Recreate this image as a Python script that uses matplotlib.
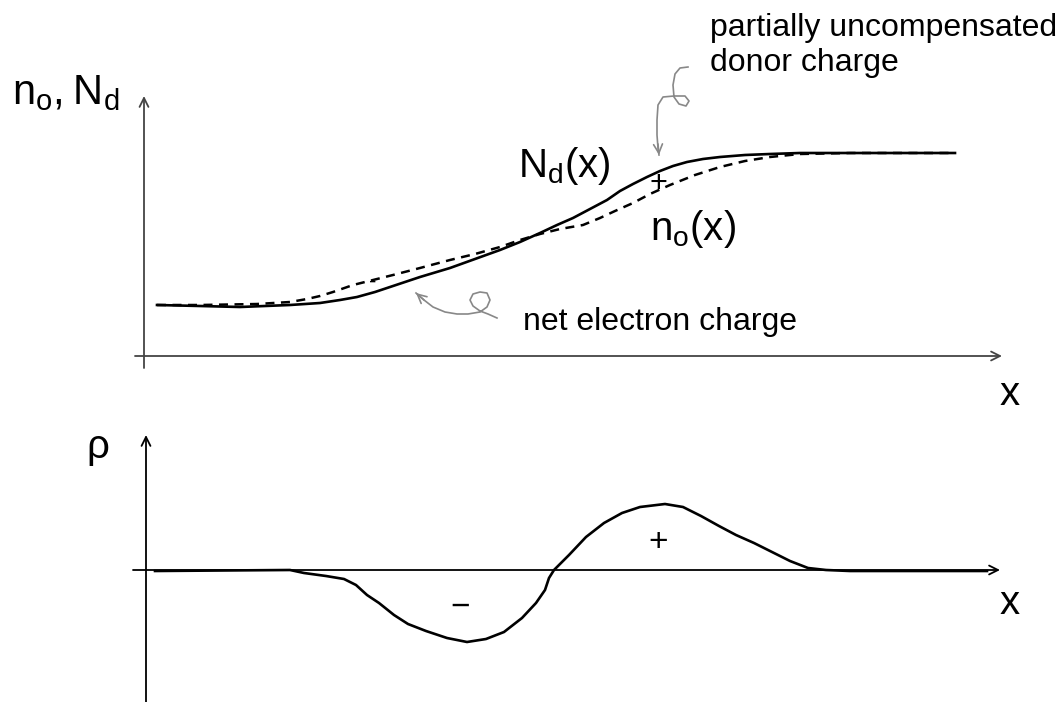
import matplotlib
matplotlib.use("Agg")
import matplotlib.pyplot as plt

plt.rcParams["font.family"] = ["Liberation Sans", "DejaVu Sans"]
plt.rcParams["mathtext.default"] = "regular"

# upper sketch: height above the x axis
x_nd = [157, 200, 240, 290, 320, 340, 357, 375, 390, 405, 420, 450, 475, 500, 520,
        540, 557, 573, 590, 607, 620, 633, 647, 660, 673, 687, 703, 720, 745, 770,
        800, 850, 900, 955]
nd = [50, 49, 48, 50, 52, 55, 58, 63, 68, 73, 78, 87, 96, 105, 113,
      122, 130, 137, 146, 155, 164, 171, 178, 184, 189, 193, 196, 198, 200, 201,
      202, 202, 202, 202]

x_no = [157, 200, 257, 290, 307, 320, 333, 353, 373, 393, 420, 450, 475, 500, 520,
        540, 560, 583, 600, 615, 633, 650, 670, 695, 720, 745, 770, 800, 850, 955]
no = [50, 50, 51, 53, 56, 59, 63, 70, 75, 80, 87, 95, 101, 108, 115,
      121, 126, 130, 137, 144, 152, 161, 170, 180, 188, 194, 198, 201, 202, 202]

# lower sketch: space charge density
x_rho = [155, 290, 304, 326, 344, 356, 367, 379, 394, 408, 426, 447, 467, 486, 504,
         522, 536, 545, 549, 554, 569, 586, 604, 622, 640, 665, 683, 701, 719, 736,
         754, 772, 790, 808, 826, 850, 987]
rho = [-1, 0, -3, -6, -9, -15, -25, -33, -45, -54, -61, -68, -72, -69, -62,
       -48, -33, -20, -8, 0, 15, 33, 47, 57, 63, 66, 63, 54, 44, 35,
       27, 18, 9, 2, 0, -1, -1]

# hand drawn pointer strokes (upper sketch coordinates)
donor_px = [688, 680, 675, 673, 674, 679, 686, 689, 685, 674, 663, 658, 657, 657, 658, 659]
donor_py = [288, 287, 281, 270, 258, 251, 249, 254, 259, 259, 258, 250, 235, 220, 207, 200]
elec_px = [497, 488, 480, 473, 470, 473, 480, 487, 490, 487, 480, 468, 457, 445, 433, 424, 416]
elec_py = [37, 41, 44, 49, 55, 61, 63, 62, 55, 48, 43, 41, 41, 43, 48, 55, 62]

fig = plt.figure(figsize=(10.64, 7.02), dpi=100)
ax = fig.add_axes([0, 282 / 702, 1, 420 / 702])
ax.set_xlim(0, 1064)
ax.set_ylim(-65, 355)
ax.axis("off")

bx = fig.add_axes([0, 0, 1, 282 / 702])
bx.set_xlim(0, 1064)
bx.set_ylim(-132, 150)
bx.axis("off")

axis_style = dict(arrowstyle="->", lw=1.3, shrinkA=0, shrinkB=0, mutation_scale=16)

# axes of the upper sketch
ax.annotate("", xy=(144, 259), xytext=(144, -13),
            arrowprops=dict(color="#444444", **axis_style))
ax.annotate("", xy=(1002, -1), xytext=(135, -1),
            arrowprops=dict(color="#444444", **axis_style))

ax.plot(x_nd, nd, color="black", lw=1.9, solid_joinstyle="round")
ax.plot(x_no, no, color="black", lw=1.8, dashes=(3.6, 2.6))

ax.text(12, 251, r"$n_o, N_d$", fontsize=30, va="baseline")
ax.text(518, 178, r"$N_d(x)$", fontsize=29, va="baseline")
ax.text(650, 115, r"$n_o(x)$", fontsize=29, va="baseline")
ax.text(1010, -50, "x", fontsize=29, ha="center", va="baseline")
ax.text(658, 171, "+", fontsize=22, ha="center", va="center")
ax.text(373, 73, "-", fontsize=16, ha="center", va="center")

ax.text(710, 319, "partially uncompensated", fontsize=23, va="baseline")
ax.text(710, 284, "donor charge", fontsize=23, va="baseline")
ax.text(523, 25, "net electron charge", fontsize=23, va="baseline")

ax.plot(donor_px, donor_py, color="#888888", lw=1.2)
ax.annotate("", xy=(donor_px[-1], donor_py[-1]), xytext=(donor_px[-2], donor_py[-2] + 4),
            arrowprops=dict(arrowstyle="->", color="#888888", lw=1.2,
                            shrinkA=0, shrinkB=0, mutation_scale=16))
ax.plot(elec_px, elec_py, color="#888888", lw=1.2)
ax.annotate("", xy=(elec_px[-1], elec_py[-1]), xytext=(elec_px[-2], elec_py[-2]),
            arrowprops=dict(arrowstyle="->", color="#888888", lw=1.2,
                            shrinkA=0, shrinkB=0, mutation_scale=16))

# axes of the lower sketch
bx.annotate("", xy=(146, 135), xytext=(146, -132),
            arrowprops=dict(color="black", **axis_style))
bx.annotate("", xy=(1000, 0), xytext=(133, 0),
            arrowprops=dict(color="black", **axis_style))

bx.plot(x_rho, rho, color="black", lw=1.9, solid_joinstyle="round")

bx.text(98, 123, "ρ", fontsize=29, ha="center", va="center")
bx.text(1010, -33, "x", fontsize=29, ha="center", va="center")
bx.text(658, 27, "+", fontsize=24, ha="center", va="center")
bx.text(460, -37, "−", fontsize=24, ha="center", va="center")

fig.savefig("out.png", dpi=100)
